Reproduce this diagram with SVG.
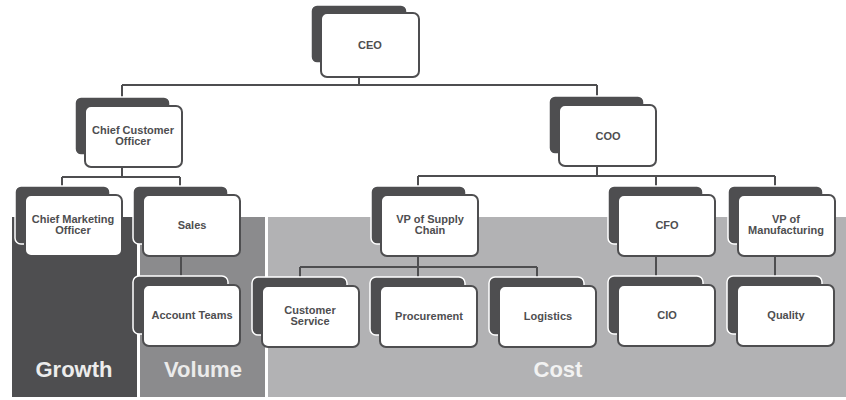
<svg xmlns="http://www.w3.org/2000/svg" width="846" height="400" viewBox="0 0 846 400">
  <style>
    .band-growth { fill: #4e4e50; }
    .band-volume { fill: #8b8b8d; }
    .band-cost { fill: #b2b2b4; }
    .band-label { font-family: "Liberation Sans", Arial, sans-serif; font-weight: bold; font-size: 22px; text-anchor: middle; }
    .back { fill: #4e4e50; stroke: #ffffff; stroke-width: 1.5; }
    .front { fill: #ffffff; stroke: #4e4e50; stroke-width: 2; }
    .label { font-family: "Liberation Sans", Arial, sans-serif; font-weight: bold; font-size: 11px; fill: #4e4e50; text-anchor: middle; }
    .conn { fill: none; stroke: #4e4e50; stroke-width: 2; }
  </style>
  <defs>
    <!-- stacked card: dark back sheet plus white front sheet -->
    <g id="card">
      <rect class="back" x="0" y="0" width="95" height="58" rx="6"/>
      <rect class="front" x="10" y="9" width="97" height="61" rx="6"/>
    </g>
  </defs>

  <rect width="846" height="400" fill="#ffffff"/>

  <!-- category bands -->
  <g id="bands">
    <rect class="band-growth" x="12" y="217" width="125" height="180"/>
    <rect class="band-volume" x="140" y="217" width="125" height="180"/>
    <rect class="band-cost" x="268" y="217" width="578" height="180"/>
    <text class="band-label" x="74" y="377" fill="#ececec">Growth</text>
    <text class="band-label" x="203" y="377" fill="#ebebeb">Volume</text>
    <text class="band-label" x="558" y="377" fill="#f2f2f2">Cost</text>
  </g>

  <!-- reporting lines -->
  <g id="connectors">
    <path class="conn" d="M359 77 V85 M122 85 H597 M122 85 V97 M597 85 V96"/>
    <path class="conn" d="M122 166 V177 M62 177 H180 M62 177 V186 M180 177 V186"/>
    <path class="conn" d="M597 167 V176 M418 176 H775 M418 176 V187 M656 176 V187 M775 176 V187"/>
    <path class="conn" d="M181 256 V276"/>
    <path class="conn" d="M418 256 V267 M300 267 H537 M300 267 V277 M418 267 V277 M537 267 V277"/>
    <path class="conn" d="M656 256 V276"/>
    <path class="conn" d="M775 256 V276"/>
  </g>

  <g id="ceo">
    <rect class="back" x="311" y="5" width="96" height="58" rx="6"/>
    <rect class="front" x="321" y="13" width="98" height="64" rx="6"/>
    <text class="label" x="370" y="49">CEO</text>
  </g>

  <g id="cco">
    <use href="#card" x="75" y="97"/>
    <text class="label" x="133" y="134">Chief Customer</text>
    <text class="label" x="133" y="145">Officer</text>
  </g>

  <g id="coo">
    <use href="#card" x="549" y="96"/>
    <text class="label" x="608" y="140">COO</text>
  </g>

  <g id="cmo">
    <use href="#card" x="15" y="186"/>
    <text class="label" x="73" y="223">Chief Marketing</text>
    <text class="label" x="73" y="234">Officer</text>
  </g>

  <g id="sales">
    <use href="#card" x="133" y="186"/>
    <text class="label" x="192" y="229">Sales</text>
  </g>

  <g id="vp-supply-chain">
    <use href="#card" x="371" y="186"/>
    <text class="label" x="430" y="223">VP of Supply</text>
    <text class="label" x="430" y="234">Chain</text>
  </g>

  <g id="cfo">
    <use href="#card" x="608" y="186"/>
    <text class="label" x="667" y="229">CFO</text>
  </g>

  <g id="vp-manufacturing">
    <use href="#card" x="728" y="186"/>
    <text class="label" x="786" y="223">VP of</text>
    <text class="label" x="786" y="234">Manufacturing</text>
  </g>

  <g id="account-teams">
    <use href="#card" x="133" y="276"/>
    <text class="label" x="192" y="319">Account Teams</text>
  </g>

  <g id="customer-service">
    <use href="#card" x="252" y="277"/>
    <text class="label" x="310" y="314">Customer</text>
    <text class="label" x="310" y="325">Service</text>
  </g>

  <g id="procurement">
    <use href="#card" x="370" y="277"/>
    <text class="label" x="429" y="320">Procurement</text>
  </g>

  <g id="logistics">
    <use href="#card" x="489" y="277"/>
    <text class="label" x="548" y="320">Logistics</text>
  </g>

  <g id="cio">
    <use href="#card" x="608" y="276"/>
    <text class="label" x="667" y="319">CIO</text>
  </g>

  <g id="quality">
    <use href="#card" x="727" y="276"/>
    <text class="label" x="786" y="319">Quality</text>
  </g>
</svg>
